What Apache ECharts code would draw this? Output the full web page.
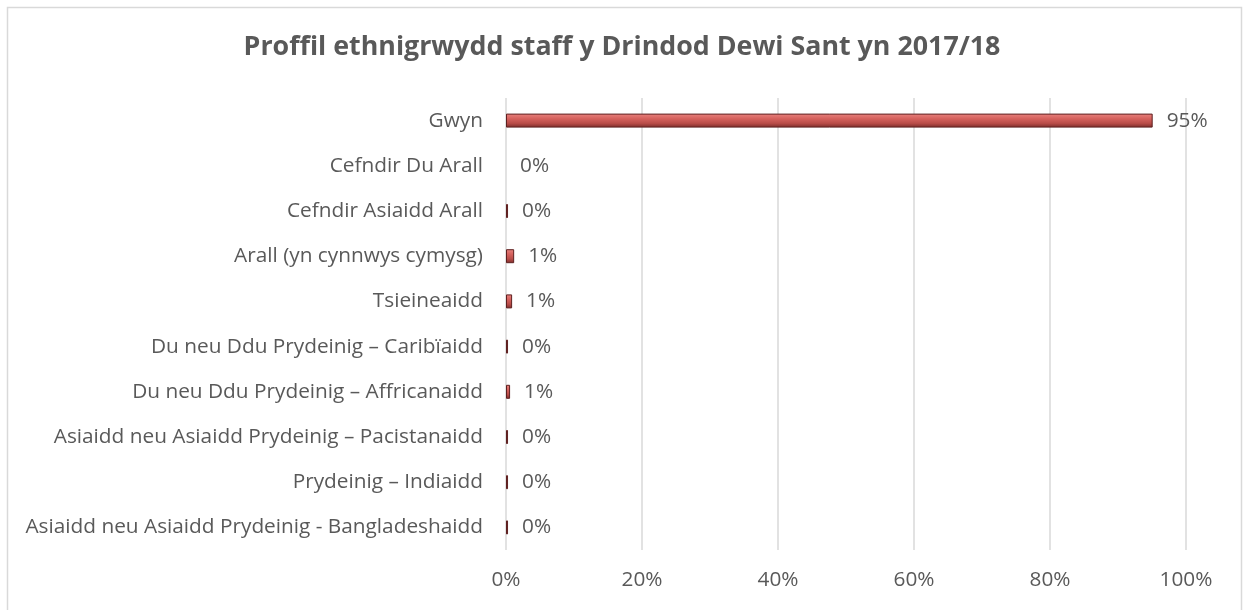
<!DOCTYPE html>
<html>
<head>
<meta charset="utf-8">
<script src="https://cdn.jsdelivr.net/npm/echarts@6/dist/echarts.min.js"></script>
<style>
  html, body { margin: 0; padding: 0; background: #fff; }
  #chart { width: 1244px; height: 610px; }
</style>
</head>
<body>
<div id="chart"></div>
<script>
var titleText = 'Proffil ethnigrwydd staff y Drindod Dewi Sant yn 2017/18';

// bottom to top, as the category axis draws them
var categories = [
    'Asiaidd neu Asiaidd Prydeinig - Bangladeshaidd',
    'Prydeinig – Indiaidd',
    'Asiaidd neu Asiaidd Prydeinig – Pacistanaidd',
    'Du neu Ddu Prydeinig – Affricanaidd',
    'Du neu Ddu Prydeinig – Caribïaidd',
    'Tsieineaidd',
    'Arall (yn cynnwys cymysg)',
    'Cefndir Asiaidd Arall',
    'Cefndir Du Arall',
    'Gwyn'
];
var shares = [0.3, 0.3, 0.3, 0.6, 0.3, 0.9, 1.2, 0.3, 0, 95.1];
var shareLabels = ['0%', '0%', '0%', '1%', '0%', '1%', '1%', '0%', '0%', '95%'];

var textColor = '#595959';
var fontName = 'Open Sans';

var chart = echarts.init(document.getElementById('chart'));

// a zero bar gets no outline, so nothing shows for it
var barData = shares.map(function (v) {
    return v === 0 ? { value: 0, itemStyle: { borderWidth: 0 } } : v;
});

var option = {
    animation: false,
    backgroundColor: '#fff',
    title: {
        text: titleText,
        left: 'center',
        top: 29,
        textStyle: {
            fontFamily: fontName,
            fontSize: 26.8,
            fontWeight: 'bold',
            color: textColor
        }
    },
    graphic: [{
        type: 'rect',
        shape: { x: 7.5, y: 7.5, width: 1234, height: 640 },
        style: { fill: 'none', stroke: '#d9d9d9', lineWidth: 1.5 },
        silent: true
    }],
    grid: {
        left: 506,
        right: 58,
        top: 98,
        bottom: 60
    },
    xAxis: {
        type: 'value',
        min: 0,
        max: 100,
        interval: 20,
        axisLine: { show: false },
        axisTick: { show: false },
        splitLine: { lineStyle: { color: '#d9d9d9', width: 1.5 } },
        axisLabel: {
            formatter: '{value}%',
            margin: 20,
            fontFamily: fontName,
            fontSize: 20.8,
            color: textColor
        }
    },
    yAxis: {
        type: 'category',
        data: categories,
        axisLine: { show: false },
        axisTick: { show: false },
        axisLabel: {
            margin: 23,
            fontFamily: fontName,
            fontSize: 20.8,
            color: textColor
        }
    },
    series: [{
        type: 'bar',
        data: barData,
        barWidth: 14,
        itemStyle: {
            color: new echarts.graphic.LinearGradient(0, 0, 0, 1, [
                { offset: 0, color: '#e8837f' },
                { offset: 0.35, color: '#d6625e' },
                { offset: 0.7, color: '#b84c48' },
                { offset: 1, color: '#7a2c2a' }
            ]),
            borderColor: '#5e2020',
            borderWidth: 1
        },
        label: {
            show: true,
            position: 'right',
            distance: 14,
            fontFamily: fontName,
            fontSize: 20.8,
            color: textColor,
            formatter: function (p) {
                return shareLabels[p.dataIndex];
            }
        }
    }]
};

chart.setOption(option);
</script>
</body>
</html>
